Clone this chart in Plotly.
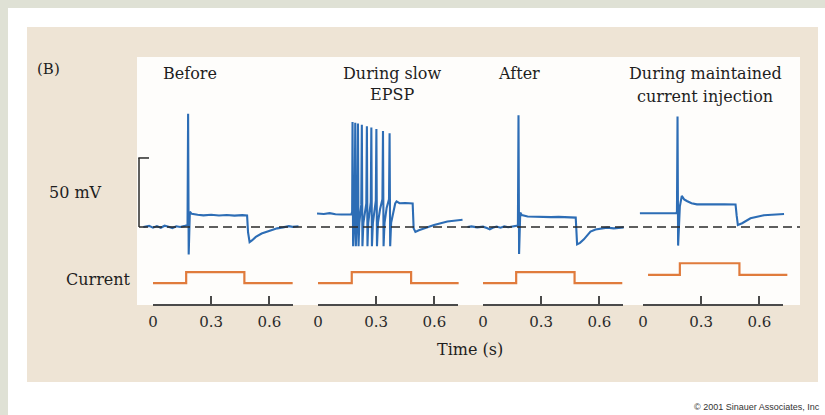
import plotly.graph_objects as go

W, H = 825, 415

# ---------------- data ----------------
panel_titles = [["Before"], ["During slow", "EPSP"], ["After"], ["During maintained", "current injection"]]

# membrane potential relative to rest (mV) vs time (s)
t_before = [-0.05, -0.02, 0.0, 0.02, 0.04, 0.06, 0.08, 0.10, 0.12, 0.14, 0.16, 0.178, 0.181, 0.184, 0.19,
            0.20, 0.23, 0.26, 0.30, 0.34, 0.38, 0.42, 0.46, 0.485, 0.49, 0.498, 0.51, 0.53, 0.56, 0.60,
            0.64, 0.67, 0.70, 0.72, 0.75]
v_before = [0, 0.8, -0.5, 0.6, -0.6, 0.9, 0.2, -0.8, 0.5, 0.0, 0.6, 1.5, 82, -20, 11,
            9.5, 8.8, 8.4, 8.9, 8.3, 8.7, 8.2, 8.6, 8.4, -4, -11, -9.8, -7.2, -4.8, -2.8,
            -1.0, -0.3, 0.6, 0.1, 0.5]

t_epsp = [-0.005, 0.03, 0.06, 0.09, 0.12, 0.15, 0.172,
          0.176, 0.178, 0.181,
          0.189, 0.192, 0.195,
          0.203, 0.206, 0.209,
          0.213, 0.219, 0.223, 0.226, 0.229,
          0.234, 0.242, 0.249, 0.252, 0.255,
          0.259, 0.266, 0.272, 0.275, 0.278,
          0.283, 0.291, 0.298, 0.301, 0.304,
          0.309, 0.320, 0.332, 0.335, 0.338,
          0.343, 0.354, 0.366, 0.369, 0.372,
          0.377, 0.388, 0.398, 0.405, 0.42, 0.45, 0.488,
          0.493, 0.502, 0.52, 0.546, 0.598, 0.667, 0.72, 0.745]
v_epsp = [9.8, 9.4, 10.0, 9.2, 9.0, 8.8, 9.0,
          11, 76, -14,
          12, 75.5, -14,
          13, 75, -14,
          3, 11, 16, 74, -14,
          3, 12, 17, 73, -14,
          3, 12, 18, 72, -14,
          3, 13, 19, 71, -14,
          3, 13, 20, 69.5, -14,
          3, 14, 20, 68, -14,
          3, 12, 17, 18.5, 17.2, 17.4, 17.0,
          -1, -3.6, -2.4, -1.0, 1.4, 3.9, 4.6, 5.2]

t_after = [-0.08, -0.06, -0.03, 0.0, 0.02, 0.035, 0.05, 0.07, 0.09, 0.11,
           0.13, 0.15, 0.17, 0.18, 0.183, 0.186, 0.192, 0.20, 0.23, 0.27,
           0.31, 0.35, 0.39, 0.43, 0.47, 0.478, 0.485, 0.50, 0.52, 0.554,
           0.58, 0.606, 0.64, 0.674, 0.70, 0.725]
v_after = [0, 0.4, -0.3, 0.2, -0.8, -1.8, -0.6, 0.3, -0.5, 0.4,
           -0.2, 0.3, 0.4, 1, 81, -19.6, 10.4, 8.6, 7.6, 7.3,
           7.5, 7.1, 7.3, 7.0, 7.2, 6.8, -12.6, -11.5, -9, -3.4,
           -1.8, -1.0, -0.5, -1.0, -0.4, -0.3]

t_maint = [-0.016, 0.03, 0.08, 0.13, 0.172, 0.175, 0.178, 0.181, 0.19, 0.20, 0.212, 0.226, 0.25,
           0.278, 0.32, 0.364, 0.42, 0.477, 0.483, 0.489, 0.511, 0.554, 0.623, 0.68, 0.727]
v_maint = [9.9, 9.9, 10.0, 9.9, 10.0, 11, 80, -13.5, 15, 22.5, 20, 18.8, 17.2,
           16.4, 16.6, 16.4, 16.5, 16.3, 8, 1.4, 2.7, 6.3, 8.5, 9.1, 9.4]

# injected current (arbitrary units) vs time (s)
ct_before = [0, 0.171, 0.171, 0.471, 0.471, 0.72]
ci_before = [0, 0, 1, 1, 0, 0]
ct_epsp = [0, 0.174, 0.174, 0.48, 0.48, 0.725]
ci_epsp = [0, 0, 1, 1, 0, 0]
ct_after = [0, 0.171, 0.171, 0.472, 0.472, 0.718]
ci_after = [0, 0, 1, 1, 0, 0]
ct_maint = [0.026, 0.19, 0.19, 0.497, 0.497, 0.744]
ci_maint = [0.75, 0.75, 1.8, 1.8, 0.75, 0.75]

time_ticks = [0, 0.3, 0.6]
time_ticktext = ["0", "0.3", "0.6"]
scale_bar_mv = 50

volt_t = [t_before, t_epsp, t_after, t_maint]
volt_v = [v_before, v_epsp, v_after, v_maint]
cur_t = [ct_before, ct_epsp, ct_after, ct_maint]
cur_i = [ci_before, ci_epsp, ci_after, ci_maint]

# ---------------- layout geometry ----------------
BLUE = "#2d6db5"
ORANGE = "#e07b3c"
SERIF = "DejaVu Serif"
panel_x0 = [153, 318, 483, 643]   # pixel of t = 0
PX_PER_S = 194.0
VT_RANGE = [-0.12, 0.78]
TIME_RANGE = [0, 0.72]


def px(x):
    return x / W


def py(y):
    return 1 - y / H


fig = go.Figure()
layout = dict(
    width=W, height=H, autosize=False, margin=dict(l=0, r=0, t=0, b=0, pad=0),
    paper_bgcolor="#dfe1d5", plot_bgcolor="rgba(0,0,0,0)",
    showlegend=False,
    yaxis=dict(domain=[py(262), py(105)], range=[-25.4, 88.4], visible=False, anchor="x", fixedrange=True),
    yaxis2=dict(domain=[py(304), py(255)], range=[-1.9, 2.55], visible=False, anchor="x5", fixedrange=True),
)

for i in range(4):
    k = i + 1
    xa = "xaxis" if k == 1 else f"xaxis{k}"
    xr = "x" if k == 1 else f"x{k}"
    t0 = panel_x0[i]
    layout[xa] = dict(
        domain=[px(t0 + VT_RANGE[0] * PX_PER_S), px(t0 + VT_RANGE[1] * PX_PER_S)],
        range=VT_RANGE, visible=False, anchor="y", fixedrange=True)
    ta = f"xaxis{k + 4}"
    layout[ta] = dict(
        domain=[px(t0), px(t0 + TIME_RANGE[1] * PX_PER_S)], range=TIME_RANGE,
        anchor="y2", side="bottom", showline=True, linecolor="#4a4a4a", linewidth=1.5,
        ticks="inside", ticklen=8, tickwidth=1.5, tickcolor="#4a4a4a",
        tickmode="array", tickvals=time_ticks, ticktext=time_ticktext,
        tickfont=dict(family=SERIF, size=15, color="#2a2a2a"), ticklabelstandoff=3,
        showgrid=False, zeroline=False, fixedrange=True, automargin=False)

    fig.add_trace(go.Scatter(x=volt_t[i], y=volt_v[i], mode="lines", xaxis=xr, yaxis="y",
                             line=dict(color=BLUE, width=2.1), hoverinfo="skip"))
    fig.add_trace(go.Scatter(x=cur_t[i], y=cur_i[i], mode="lines", xaxis=xr, yaxis="y2",
                             line=dict(color=ORANGE, width=2.2, shape="linear"), hoverinfo="skip"))
    # placeholder trace (no visible points) so that the time-axis subplot is drawn
    fig.add_trace(go.Scatter(x=time_ticks, y=[None] * len(time_ticks), mode="lines",
                             xaxis=f"x{k + 4}", yaxis="y2", hoverinfo="skip"))

fig.update_layout(**layout)

shapes = [
    dict(type="rect", xref="paper", yref="paper", x0=px(8), x1=1, y0=0, y1=py(8),
         fillcolor="#ffffff", line=dict(width=0), layer="below"),
    dict(type="rect", xref="paper", yref="paper", x0=px(27), x1=px(818), y0=py(382), y1=py(27),
         fillcolor="#eee4d5", line=dict(width=0), layer="below"),
    dict(type="rect", xref="paper", yref="paper", x0=px(137), x1=px(800), y0=py(305), y1=py(57),
         fillcolor="#fefdfb", line=dict(width=0), layer="below"),
    # resting-potential dashed line
    dict(type="line", xref="paper", yref="y", x0=px(139), x1=px(800), y0=0, y1=0,
         line=dict(color="#2a2a2a", width=1.5, dash="9px,5px")),
    # 50 mV scale bar
    dict(type="line", xref="paper", yref="y", x0=px(139), x1=px(139), y0=0, y1=scale_bar_mv,
         line=dict(color="#2a2a2a", width=1.5)),
    dict(type="line", xref="paper", yref="y", x0=px(138.3), x1=px(149), y0=scale_bar_mv, y1=scale_bar_mv,
         line=dict(color="#2a2a2a", width=1.5)),
]
fig.update_layout(shapes=shapes)

ann = []


def add_text(text, x, y, size=16, xanchor="center", family=SERIF, color="#1e1e1e"):
    ann.append(dict(text=text, x=px(x), y=py(y), xref="paper", yref="paper", showarrow=False,
                    xanchor=xanchor, yanchor="middle", font=dict(family=family, size=size, color=color)))


add_text("(B)", 48, 69, size=15)
title_pos = [(190, [74]), (392, [74, 94]), (519, [74]), (705, [74, 96])]
for (cx, ys), lines in zip(title_pos, panel_titles):
    for yy, line in zip(ys, lines):
        add_text(line, cx, yy)
add_text("50 mV", 104, 193, xanchor="right")
add_text("Current", 133, 279, xanchor="right")
add_text("Time (s)", 470, 349)
add_text("© 2001 Sinauer Associates, Inc", 822, 407, size=9, xanchor="right",
         family="Liberation Sans", color="#333333")
fig.update_layout(annotations=ann)

fig.write_html("out.html", config={"displayModeBar": False})
